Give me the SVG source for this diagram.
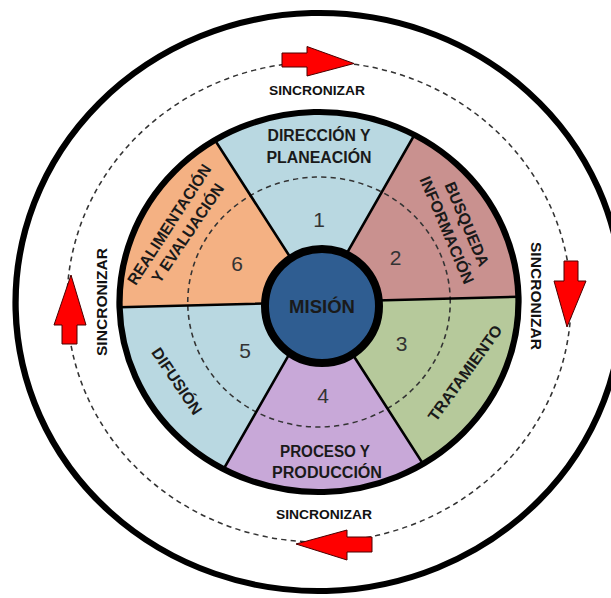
<svg xmlns="http://www.w3.org/2000/svg" width="611" height="598" viewBox="0 0 611 598">
<style>
.lbl{font-family:"Liberation Sans",Arial,sans-serif;font-weight:bold;font-size:16px;fill:#1a1a1a;text-anchor:middle}
.num{font-family:"Liberation Sans",Arial,sans-serif;font-size:21px;fill:#333;text-anchor:middle}
.sync{font-family:"Liberation Sans",Arial,sans-serif;font-weight:bold;fill:#111;text-anchor:middle}
.div{stroke:#000;stroke-width:2.5;fill:none}
.dash{fill:none;stroke:#333;stroke-width:1.5;stroke-dasharray:5 4}
.arrow{fill:#ff0000;stroke:#4a0000;stroke-width:1}
</style>
<rect width="611" height="598" fill="#fff"/>
<g id="wheel" transform="translate(319,302) rotate(-1.5) scale(1.05,1)">
  <circle id="outer-ring" r="289" fill="none" stroke="#000" stroke-width="6"/>
  <circle id="sync-path" r="240" class="dash"/>
  <g id="sector-1"><path d="M0,0 L-95,-164.5 A190,190 0 0 1 95,-164.5 Z" fill="#b9d8e1"/></g>
  <g id="sector-2"><path d="M0,0 L95,-164.5 A190,190 0 0 1 190,0 Z" fill="#c9918f"/></g>
  <g id="sector-3"><path d="M0,0 L190,0 A190,190 0 0 1 95,164.5 Z" fill="#b6c99b"/></g>
  <g id="sector-4"><path d="M0,0 L95,164.5 A190,190 0 0 1 -95,164.5 Z" fill="#c8a8d8"/></g>
  <g id="sector-5"><path d="M0,0 L-95,164.5 A190,190 0 0 1 -190,0 Z" fill="#b9d8e1"/></g>
  <g id="sector-6"><path d="M0,0 L-190,0 A190,190 0 0 1 -95,-164.5 Z" fill="#f4b183"/></g>
  <circle r="125" class="dash" stroke="#222"/>
  <g id="dividers">
    <path class="div" d="M0,0 L-95,-164.5 M0,0 L95,-164.5 M0,0 L190,0 M0,0 L95,164.5 M0,0 L-95,164.5 M0,0 L-190,0"/>
  </g>
  <circle r="190" fill="none" stroke="#000" stroke-width="6"/>
</g>
<g id="mision">
  <circle cx="322" cy="306" r="57" fill="#2f5d91" stroke="#000" stroke-width="8"/>
  <text class="lbl" x="322" y="313" font-size="18.5" style="font-size:18.5px">MISIÓN</text>
</g>
<g id="labels">
  <text class="lbl" x="319" y="141" textLength="103" lengthAdjust="spacingAndGlyphs">DIRECCIÓN Y</text>
  <text class="lbl" x="319" y="163" textLength="105" lengthAdjust="spacingAndGlyphs">PLANEACIÓN</text>
  <text class="lbl" transform="translate(467,224) rotate(67)" y="5.7" textLength="90" lengthAdjust="spacingAndGlyphs">BUSQUEDA</text>
  <text class="lbl" transform="translate(447,230) rotate(67)" y="5.7" textLength="115" lengthAdjust="spacingAndGlyphs">INFORMACIÓN</text>
  <text class="lbl" transform="translate(465,373) rotate(-54)" y="5.7" textLength="114" lengthAdjust="spacingAndGlyphs">TRATAMIENTO</text>
  <text class="lbl" x="325" y="457" textLength="90" lengthAdjust="spacingAndGlyphs">PROCESO Y</text>
  <text class="lbl" x="327" y="478" textLength="110" lengthAdjust="spacingAndGlyphs">PRODUCCIÓN</text>
  <text class="lbl" transform="translate(177,381) rotate(56)" y="5.7" textLength="77" lengthAdjust="spacingAndGlyphs">DIFUSIÓN</text>
  <text class="lbl" transform="translate(169,224.5) rotate(-57)" y="5.7" textLength="140" lengthAdjust="spacingAndGlyphs">REALIMENTACIÓN</text>
  <text class="lbl" transform="translate(187.5,233) rotate(-56)" y="5.7" textLength="116" lengthAdjust="spacingAndGlyphs">Y EVALUACIÓN</text>
</g>
<g id="numbers">
  <text class="num" x="319" y="227">1</text>
  <text class="num" x="395.5" y="265">2</text>
  <text class="num" x="401.5" y="351">3</text>
  <text class="num" x="323" y="403">4</text>
  <text class="num" x="245" y="358">5</text>
  <text class="num" x="237" y="271">6</text>
</g>
<g id="sync-labels">
  <text class="sync" x="317" y="95" font-size="13.5" style="font-size:13.5px" textLength="96" lengthAdjust="spacingAndGlyphs">SINCRONIZAR</text>
  <text class="sync" x="324" y="519" style="font-size:13.5px" textLength="96" lengthAdjust="spacingAndGlyphs">SINCRONIZAR</text>
  <text class="sync" transform="translate(107,302) rotate(-90)" style="font-size:15.5px" textLength="108" lengthAdjust="spacingAndGlyphs">SINCRONIZAR</text>
  <text class="sync" transform="translate(531,296) rotate(90)" style="font-size:15.5px" textLength="108" lengthAdjust="spacingAndGlyphs">SINCRONIZAR</text>
</g>
<g id="connectors">
  <polygon class="arrow" points="282,53 307,53 307,46.5 354,63.5 307,76 307,67 282,67"/>
  <polygon class="arrow" points="372,537 347,537 347,530 296,544 347,560 347,552 372,552"/>
  <polygon class="arrow" points="62,344 62,325 54,325 71,275 86,325 77,325 77,344"/>
  <polygon class="arrow" points="564,261 578,261 578,281 586,281 567,327 554,281 564,281"/>
</g>
</svg>
